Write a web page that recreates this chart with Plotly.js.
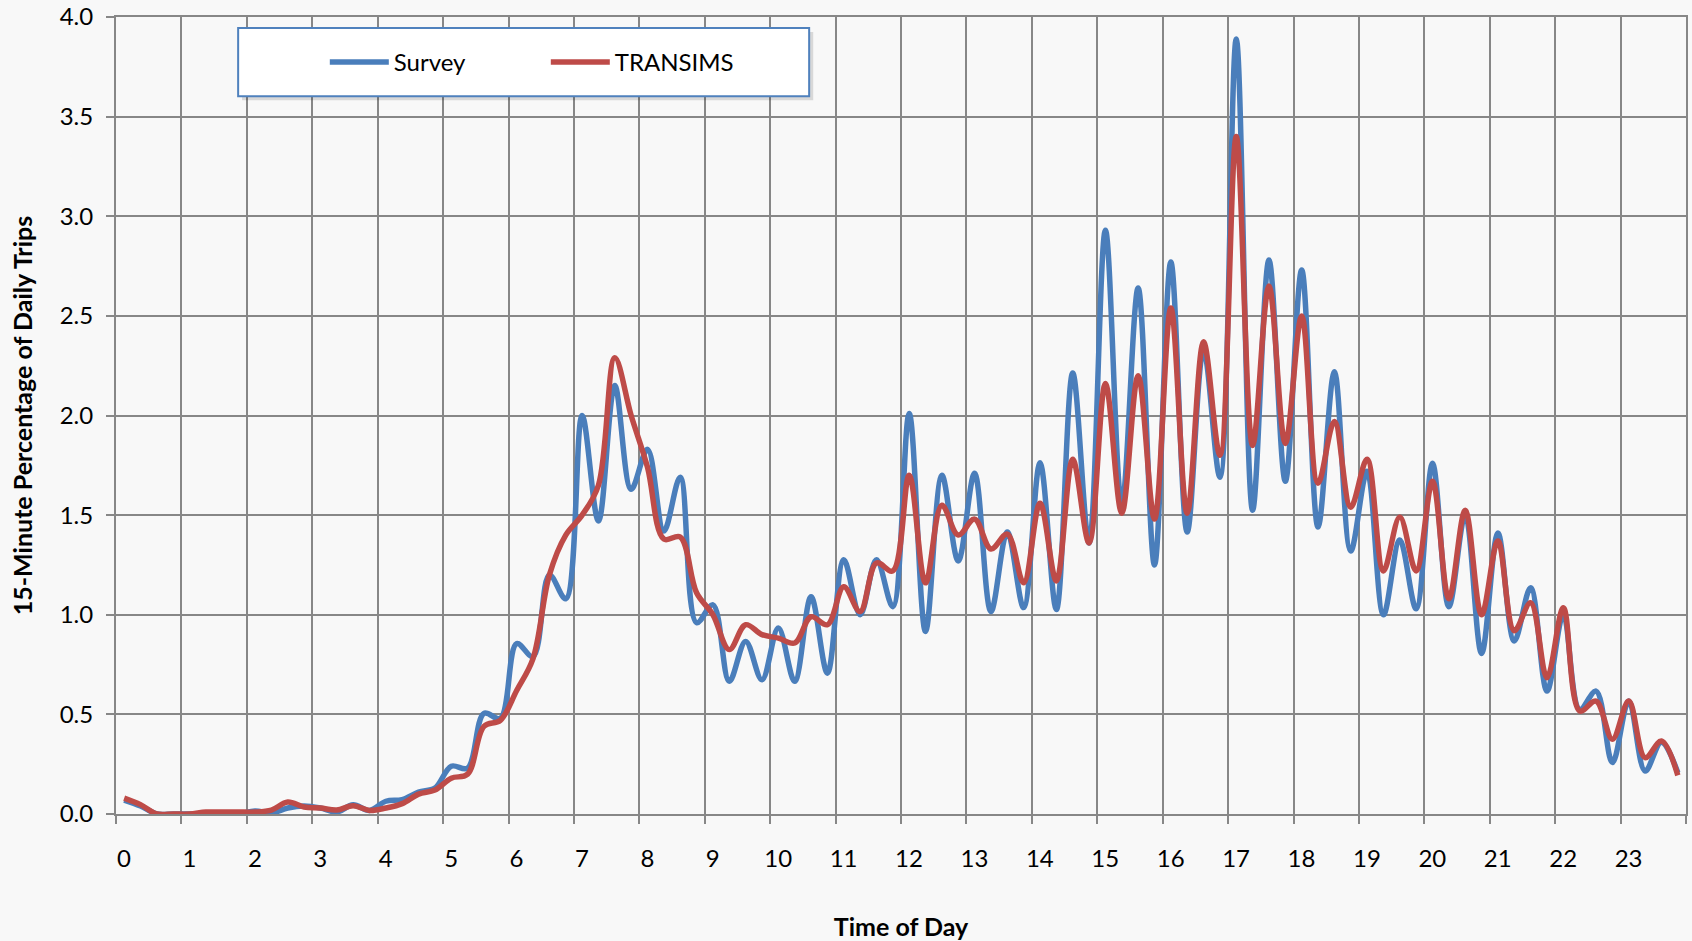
<!DOCTYPE html>
<html>
<head>
<meta charset="utf-8">
<script src="https://cdn.plot.ly/plotly-3.0.1.min.js"></script>
<style>
  html, body { margin: 0; padding: 0; background: #f8f8f8; }
  #chart { width: 1692px; height: 941px; }
</style>
</head>
<body>
<div id="chart"></div>
<script>
// Time of day in hours, one point per 15 minutes
const timeOfDay = [
  0, 0.25, 0.5, 0.75, 1, 1.25, 1.5, 1.75, 2, 2.25, 2.5, 2.75,
  3, 3.25, 3.5, 3.75, 4, 4.25, 4.5, 4.75, 5, 5.25, 5.5, 5.75,
  6, 6.25, 6.5, 6.75, 7, 7.25, 7.5, 7.75, 8, 8.25, 8.5, 8.75,
  9, 9.25, 9.5, 9.75, 10, 10.25, 10.5, 10.75, 11, 11.25, 11.5, 11.75,
  12, 12.25, 12.5, 12.75, 13, 13.25, 13.5, 13.75, 14, 14.25, 14.5, 14.75,
  15, 15.25, 15.5, 15.75, 16, 16.25, 16.5, 16.75, 17, 17.25, 17.5, 17.75,
  18, 18.25, 18.5, 18.75, 19, 19.25, 19.5, 19.75, 20, 20.25, 20.5, 20.75,
  21, 21.25, 21.5, 21.75, 22, 22.25, 22.5, 22.75, 23, 23.25, 23.5, 23.75
];

// 15-minute percentage of daily trips
const survey = [
  0.07, 0.04, 0.00, 0.00, 0.00, 0.00, 0.00, 0.00, 0.015, 0.005, 0.03, 0.04,
  0.03, 0.01, 0.047, 0.018, 0.064, 0.072, 0.11, 0.13, 0.24, 0.23, 0.505, 0.48,
  0.855, 0.79, 1.20, 1.08, 2.00, 1.47, 2.15, 1.63, 1.83, 1.42, 1.69, 0.96,
  1.05, 0.666, 0.866, 0.674, 0.933, 0.666, 1.09, 0.707, 1.276, 1.00, 1.276, 1.04,
  2.01, 0.916, 1.70, 1.27, 1.71, 1.016, 1.415, 1.036, 1.763, 1.026, 2.213, 1.36,
  2.93, 1.55, 2.64, 1.25, 2.77, 1.415, 2.33, 1.69, 3.89, 1.525, 2.78, 1.67,
  2.73, 1.44, 2.22, 1.32, 1.72, 1.00, 1.375, 1.03, 1.76, 1.04, 1.50, 0.806,
  1.41, 0.868, 1.135, 0.617, 1.00, 0.525, 0.617, 0.258, 0.567, 0.216, 0.36, 0.207
];

const transims = [
  0.08, 0.047, 0.00, 0.00, 0.00, 0.01, 0.01, 0.01, 0.01, 0.02, 0.06, 0.035,
  0.03, 0.02, 0.042, 0.018, 0.03, 0.052, 0.10, 0.12, 0.18, 0.20, 0.44, 0.47,
  0.62, 0.78, 1.20, 1.40, 1.50, 1.65, 2.29, 2.00, 1.74, 1.38, 1.39, 1.11,
  1.00, 0.825, 0.95, 0.90, 0.883, 0.858, 0.99, 0.95, 1.14, 1.016, 1.26, 1.22,
  1.70, 1.16, 1.55, 1.40, 1.48, 1.33, 1.405, 1.16, 1.56, 1.17, 1.78, 1.36,
  2.16, 1.51, 2.20, 1.48, 2.54, 1.51, 2.37, 1.80, 3.40, 1.85, 2.65, 1.86,
  2.50, 1.66, 1.97, 1.54, 1.78, 1.22, 1.49, 1.22, 1.67, 1.08, 1.525, 1.00,
  1.37, 0.92, 1.06, 0.684, 1.035, 0.517, 0.567, 0.375, 0.567, 0.283, 0.366, 0.194
];

// Category boundaries (gridlines) and hour labels
const hourBoundaries = [];
const hourLabels = [];
for (let h = 0; h <= 24; h++) {
  hourBoundaries.push(h - 0.125);
  hourLabels.push(h < 24 ? String(h) : "");
}

const seriesNames = ["Survey", "TRANSIMS"];
const seriesColors = ["#4a7ebb", "#be4b48"];

const traces = [survey, transims].map((vals, k) => ({
  type: "scatter",
  mode: "lines",
  name: seriesNames[k],
  x: timeOfDay,
  y: vals,
  line: { color: seriesColors[k], width: 5.5, shape: "spline", smoothing: 1 },
  hoverinfo: "x+y+name"
}));

const gridColor = "#878787";
const fontFam = "Lato, 'Open Sans', sans-serif";

const layout = {
  width: 1692,
  height: 941,
  margin: { l: 116, r: 6, t: 17, b: 127 },
  paper_bgcolor: "#f8f8f8",
  plot_bgcolor: "#f8f8f8",
  font: { family: fontFam, size: 24, color: "#000" },
  showlegend: true,
  legend: {
    orientation: "h",
    x: 0.133,
    xanchor: "left",
    y: 0.943,
    yanchor: "middle",
    bgcolor: "rgba(0,0,0,0)",
    borderwidth: 0,
    font: { family: fontFam, size: 24, color: "#000" },
    entrywidth: 147,
    entrywidthmode: "pixels",
    itemwidth: 59
  },
  xaxis: {
    range: [-0.125, 23.875],
    tickmode: "array",
    tickvals: hourBoundaries,
    ticktext: hourLabels,
    ticklabelshift: 8,
    ticklabelstandoff: 14,
    ticks: "outside",
    ticklen: 8,
    tickwidth: 2,
    tickcolor: gridColor,
    showgrid: true,
    gridcolor: gridColor,
    gridwidth: 2,
    showline: true,
    linecolor: gridColor,
    linewidth: 2,
    mirror: true,
    zeroline: false,
    tickfont: { family: fontFam, size: 24, color: "#000" },
    title: {
      text: "<b>Time of Day</b>",
      font: { family: fontFam, size: 25, color: "#000" },
      standoff: 50
    }
  },
  yaxis: {
    range: [0, 4],
    dtick: 0.5,
    tickformat: ".1f",
    ticks: "outside",
    ticklen: 8,
    tickwidth: 2,
    tickcolor: gridColor,
    ticklabelstandoff: 8,
    showgrid: true,
    gridcolor: gridColor,
    gridwidth: 2,
    showline: true,
    linecolor: gridColor,
    linewidth: 2,
    mirror: true,
    zeroline: false,
    tickfont: { family: fontFam, size: 24, color: "#000" },
    title: {
      text: "<b>15-Minute Percentage of Daily Trips</b>",
      font: { family: fontFam, size: 25, color: "#000" },
      standoff: 20
    }
  },
  shapes: [
    {
      type: "rect", xref: "paper", yref: "paper", layer: "above",
      x0: 0.0803, x1: 0.4441, y0: 0.8957, y1: 0.9812,
      fillcolor: "rgba(0,0,0,0.13)", line: { width: 0 }
    },
    {
      type: "rect", xref: "paper", yref: "paper", layer: "above",
      x0: 0.0778, x1: 0.4415, y0: 0.9007, y1: 0.9862,
      fillcolor: "#ffffff", line: { color: "#4f81bd", width: 2 }
    }
  ]
};

Plotly.newPlot("chart", traces, layout, { displayModeBar: false });
</script>
</body>
</html>
